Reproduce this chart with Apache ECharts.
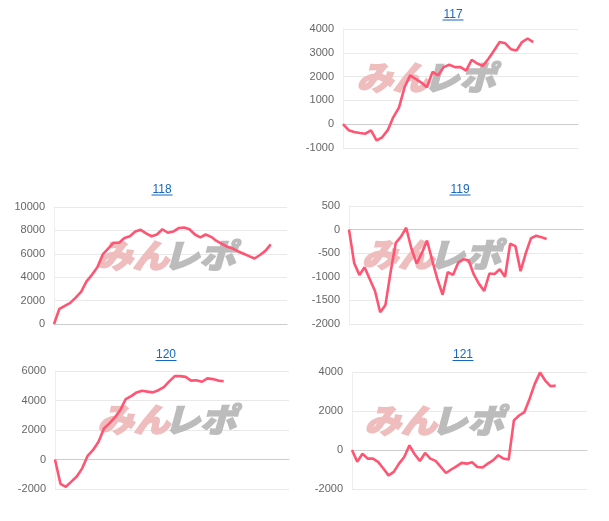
<!DOCTYPE html>
<html><head><meta charset="utf-8">
<script src="https://cdn.jsdelivr.net/npm/echarts@6/dist/echarts.min.js"></script>
<style>html,body{margin:0;padding:0;background:#fff}#c{width:609px;height:521px}</style>
</head><body><div id="c"></div>
<script>
// ---- data ----
const titles = ['117', '118', '119', '120', '121'];
const catCount = [43, 44, 46, 44, 46];

const values117 = [0, -250, -330, -370, -400, -260, -680, -550, -250, 300, 700, 1550, 2050, 1900, 1750, 1550, 2200, 2050, 2400, 2500, 2400, 2400, 2250, 2700, 2550, 2450, 2750, 3100, 3450, 3400, 3150, 3100, 3450, 3600, 3450];
const values118 = [0, 1300, 1550, 1800, 2250, 2750, 3650, 4200, 4850, 5950, 6450, 6950, 6950, 7350, 7500, 7900, 8050, 7750, 7500, 7650, 8100, 7800, 7900, 8200, 8250, 8100, 7650, 7400, 7650, 7450, 7100, 6850, 6600, 6450, 6200, 6000, 5800, 5600, 5900, 6250, 6800];
const values119 = [0, -710, -960, -800, -1050, -1300, -1750, -1600, -900, -280, -150, 40, -400, -720, -500, -230, -650, -1050, -1380, -900, -960, -700, -630, -650, -950, -1150, -1300, -930, -940, -840, -1000, -300, -350, -880, -500, -180, -130, -160, -200];
const values120 = [0, -1650, -1850, -1500, -1150, -600, 250, 650, 1200, 2100, 2450, 2850, 3350, 4100, 4300, 4550, 4660, 4600, 4550, 4700, 4900, 5300, 5650, 5650, 5600, 5350, 5370, 5270, 5500, 5450, 5350, 5310];
const values121 = [0, -600, -190, -440, -440, -610, -950, -1300, -1120, -700, -360, 240, -220, -560, -150, -440, -560, -870, -1180, -1000, -840, -660, -700, -630, -870, -900, -700, -530, -270, -440, -490, 1520, 1770, 1940, 2620, 3390, 3970, 3560, 3270, 3300];
const seriesValues = [values117, values118, values119, values120, values121];

const yMin = [-1000, 0, -2000, -2000, -2000];
const yMax = [4000, 10000, 500, 6000, 4000];
const yStep = [1000, 2000, 500, 2000, 2000];

// ---- layout ----
const grids = [
  {left: 343, top: 29, width: 235, height: 119, tx: 453, ty: 14.5},
  {left: 54, top: 207, width: 233, height: 117, tx: 162, ty: 189.5},
  {left: 349, top: 206, width: 234, height: 118, tx: 460, ty: 189.5},
  {left: 55, top: 371, width: 234, height: 118, tx: 166, ty: 355},
  {left: 352, top: 372, width: 235, height: 117, tx: 463, ty: 355}
];

function makeCats(n) { const a = []; for (let i = 0; i < n; i++) a.push(String(i + 1)); return a; }

const chart = echarts.init(document.getElementById('c'), null, {renderer: 'canvas'});
const option = {
  animation: false,
  backgroundColor: '#ffffff',
  grid: grids.map(g => ({left: g.left, top: g.top, width: g.width, height: g.height})),
  xAxis: grids.map((g, i) => ({
    type: 'category', gridIndex: i, boundaryGap: false, data: makeCats(catCount[i]),
    axisLabel: {show: false}, axisTick: {show: false},
    axisLine: {show: true, onZero: true, lineStyle: {color: '#cccccc', width: 1}},
    splitLine: {show: false}
  })),
  yAxis: grids.map((g, i) => ({
    type: 'value', gridIndex: i, min: yMin[i], max: yMax[i], interval: yStep[i],
    axisLabel: {color: '#666666', fontSize: 11, fontFamily: '"Liberation Sans", Arial, sans-serif', margin: 9,
      formatter: v => String(v)},
    axisTick: {show: false},
    axisLine: {show: true, lineStyle: {color: '#eeeeee'}},
    splitLine: {show: true, lineStyle: {color: '#e9e9e9', width: 1}}
  })),
  series: seriesValues.map((v, i) => ({
    type: 'line', xAxisIndex: i, yAxisIndex: i, data: v, symbol: 'none', smooth: false,
    lineStyle: {color: '#ff5573', width: 2.6}, z: 3
  })),
  graphic: []
};

grids.forEach((g, i) => {
  // title
  option.graphic.push({
    type: 'text', x: g.tx, y: g.ty, z: 10,
    style: {text: titles[i], fill: '#1467c4', fontSize: 12, fontFamily: '"Liberation Sans", Arial, sans-serif', align: 'center', verticalAlign: 'middle'}
  });
  option.graphic.push({
    type: 'line', z: 10,
    shape: {x1: g.tx - 10.5, y1: g.ty + 5.5, x2: g.tx + 10.5, y2: g.ty + 5.5},
    style: {stroke: '#1467c4', lineWidth: 1}
  });
  // watermark
  const wx = g.left + 53, wy = g.top + 36;
  option.graphic.push({
    type: 'text', x: wx, y: wy - 4, z: 1, scaleX: 1.1, originX: wx, originY: wy,
    style: {text: 'みん', fill: '#efbdbd', fontSize: 33, fontWeight: 900, fontStyle: 'italic', fontFamily: '"Noto Sans CJK JP", sans-serif', align: 'left', verticalAlign: 'top',
      stroke: '#efbdbd', lineWidth: 1.5}
  });
  option.graphic.push({
    type: 'text', x: wx + 74, y: wy - 4, z: 1, scaleX: 1.1, originX: wx + 74, originY: wy,
    style: {text: 'レポ', fill: '#bcbcbc', fontSize: 33, fontWeight: 900, fontStyle: 'italic', fontFamily: '"Noto Sans CJK JP", sans-serif', align: 'left', verticalAlign: 'top',
      stroke: '#bcbcbc', lineWidth: 1.5}
  });
});

chart.setOption(option);
</script>
</body></html>
